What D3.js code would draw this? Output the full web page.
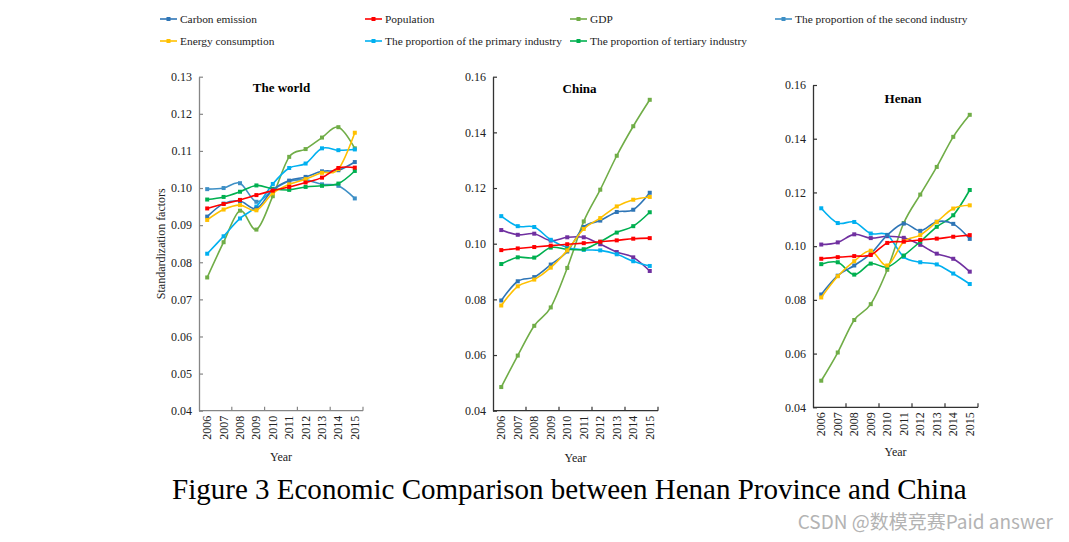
<!DOCTYPE html>
<html><head><meta charset="utf-8">
<script src="https://cdn.jsdelivr.net/npm/d3@7/dist/d3.min.js"></script>
<style>body{margin:0;background:#fff}svg{display:block}</style>
</head><body>
<svg id="c" width="1069" height="542"></svg>
<script>
// ---------- data ----------
const years = ["2006","2007","2008","2009","2010","2011","2012","2013","2014","2015"];
const seriesNames = ["Carbon emission","Population","GDP","The proportion of the second industry",
  "Energy consumption","The proportion of the primary industry","The proportion of tertiary industry"];
const panelTitles = ["The world","China","Henan"];
const worldTicks = [0.04,0.05,0.06,0.07,0.08,0.09,0.10,0.11,0.12,0.13];
const chinaTicks = [0.04,0.06,0.08,0.10,0.12,0.14,0.16];
const henanTicks = [0.04,0.06,0.08,0.10,0.12,0.14,0.16];

const worldCarbon     = [0.0923,0.0958,0.0965,0.0945,0.0995,0.1020,0.1030,0.1045,0.1048,0.1070];
const worldPopulation = [0.0945,0.0957,0.0968,0.0981,0.0993,0.1003,0.1015,0.1028,0.1054,0.1055];
const worldGDP        = [0.0759,0.0854,0.0939,0.0888,0.0978,0.1084,0.1105,0.1136,0.1164,0.1107];
const worldSecond     = [0.0997,0.1000,0.1013,0.0963,0.0995,0.1018,0.1022,0.1010,0.1006,0.0972];
const worldEnergy     = [0.0914,0.0942,0.0954,0.0940,0.0986,0.1010,0.1024,0.1041,0.1051,0.1149];
const worldPrimary    = [0.0823,0.0870,0.0918,0.0950,0.1011,0.1054,0.1066,0.1107,0.1102,0.1104];
const worldTertiary   = [0.0969,0.0976,0.0990,0.1007,0.0998,0.0995,0.1003,0.1006,0.1012,0.1046];

const chinaCarbon     = [0.0796,0.0865,0.0880,0.0925,0.0972,0.1060,0.1083,0.1114,0.1122,0.1183];
const chinaPopulation = [0.0977,0.0983,0.0988,0.0993,0.0998,0.1002,0.1007,0.1012,0.1018,0.1020];
const chinaGDP        = [0.0485,0.0598,0.0705,0.0771,0.0913,0.1080,0.1194,0.1316,0.1422,0.1517];
const chinaSecond     = [0.1049,0.1032,0.1036,0.1011,0.1023,0.1023,0.0998,0.0970,0.0951,0.0902];
const chinaEnergy     = [0.0778,0.0847,0.0871,0.0914,0.0976,0.1053,0.1092,0.1134,0.1158,0.1168];
const chinaPrimary    = [0.1099,0.1063,0.1060,0.1014,0.0986,0.0978,0.0976,0.0962,0.0937,0.0920];
const chinaTertiary   = [0.0927,0.0951,0.0950,0.0986,0.0980,0.0980,0.1007,0.1040,0.1063,0.1113];

const henanCarbon     = [0.0820,0.0890,0.0928,0.0972,0.1041,0.1084,0.1057,0.1091,0.1083,0.1027];
const henanPopulation = [0.0953,0.0959,0.0963,0.0967,0.1012,0.1017,0.1023,0.1028,0.1035,0.1041];
const henanGDP        = [0.0499,0.0604,0.0725,0.0784,0.0912,0.1086,0.1192,0.1295,0.1407,0.1489];
const henanSecond     = [0.1006,0.1014,0.1044,0.1030,0.1037,0.1031,0.1005,0.0972,0.0953,0.0905];
const henanEnergy     = [0.0809,0.0888,0.0944,0.0983,0.0928,0.1017,0.1041,0.1090,0.1140,0.1152];
const henanPrimary    = [0.1141,0.1086,0.1090,0.1047,0.1042,0.0960,0.0940,0.0932,0.0898,0.0859];
const henanTertiary   = [0.0933,0.0940,0.0894,0.0935,0.0922,0.0965,0.1017,0.1072,0.1115,0.1209];

// ---------- styles ----------
const colors = {
  "Carbon emission":"#2e75b6",
  "Population":"#ff0000",
  "GDP":"#70ad47",
  "The proportion of the second industry":"#3d8fc6",
  "Energy consumption":"#ffc000",
  "The proportion of the primary industry":"#00b0f0",
  "The proportion of tertiary industry":"#00b050"
};
const SERIF = "'Liberation Serif','Times New Roman',serif";

const panels = [
  {title:panelTitles[0], ticks:worldTicks, left:199, right:363, top:76.7, bottom:410.7,
   titleX:281.5, titleY:91.5, axisColor:"#868686", yTitle:"Standardization factors", yearY:461,
   secondColor:"#3d8fc6",
   series:[worldCarbon,worldPopulation,worldGDP,worldSecond,worldEnergy,worldPrimary,worldTertiary]},
  {title:panelTitles[1], ticks:chinaTicks, left:493, right:658, top:76.7, bottom:410.7,
   titleX:579.5, titleY:92.5, axisColor:"#333", yearY:462,
   secondColor:"#7030a0",
   series:[chinaCarbon,chinaPopulation,chinaGDP,chinaSecond,chinaEnergy,chinaPrimary,chinaTertiary]},
  {title:panelTitles[2], ticks:henanTicks, left:813, right:978, top:85, bottom:407.3,
   titleX:903, titleY:103, axisColor:"#333", yearY:456,
   secondColor:"#7030a0",
   series:[henanCarbon,henanPopulation,henanGDP,henanSecond,henanEnergy,henanPrimary,henanTertiary]}
];

const svg = d3.select("#c");
svg.append("rect").attr("width",1069).attr("height",542).attr("fill","#fff");

const drawOrder = [2,3,5,6,0,4,1];

panels.forEach(p => {
  const x = d3.scaleBand().domain(years).range([p.left,p.right]);
  const y = d3.scaleLinear().domain([p.ticks[0], p.ticks[p.ticks.length-1]]).range([p.bottom,p.top]);
  const g = svg.append("g");

  const ya = g.append("g").attr("transform",`translate(${p.left},0)`)
    .call(d3.axisRight(y).tickValues(p.ticks).tickFormat(d3.format(".2f")).tickSize(4).tickSizeOuter(0));
  ya.select(".domain").attr("stroke",p.axisColor).attr("stroke-width",1.3);
  ya.selectAll(".tick line").attr("stroke",p.axisColor).attr("stroke-width",1.2);
  ya.selectAll(".tick text").attr("x",-7).attr("text-anchor","end")
    .style("font-family",SERIF).style("font-size","12px").attr("fill","#222");

  const bw = x.bandwidth();
  g.append("line").attr("x1",p.left).attr("x2",p.right).attr("y1",p.bottom).attr("y2",p.bottom)
    .attr("stroke",p.axisColor).attr("stroke-width",1.3);
  years.forEach((yr,i) => {
    if ((i+1)%2===0) {
      const tx = x(yr)+bw;
      g.append("line").attr("x1",tx).attr("x2",tx).attr("y1",p.bottom).attr("y2",p.bottom-4)
        .attr("stroke",p.axisColor).attr("stroke-width",1.2);
    }
    g.append("text").attr("transform",`translate(${x(yr)+bw/2+4},${p.bottom+5}) rotate(-90)`)
      .attr("text-anchor","end").style("font-family",SERIF).style("font-size","12px")
      .attr("fill","#222").text(yr);
  });

  g.append("text").attr("x",p.titleX).attr("y",p.titleY).attr("text-anchor","middle")
    .style("font-family",SERIF).style("font-size","13px").style("font-weight","bold").text(p.title);

  g.append("text").attr("x",(p.left+p.right)/2).attr("y",p.yearY).attr("text-anchor","middle")
    .style("font-family",SERIF).style("font-size","12px").attr("fill","#222").text("Year");

  if (p.yTitle) {
    g.append("text").attr("transform",`translate(165,${(p.top+p.bottom)/2}) rotate(-90)`)
      .attr("text-anchor","middle").style("font-family",SERIF).style("font-size","12px")
      .attr("fill","#222").text(p.yTitle);
  }

  const line = d3.line().x((d,i)=>x(years[i])+bw/2).y(d=>y(d)).curve(d3.curveCardinal.tension(0));
  drawOrder.forEach(si => {
    const name = seriesNames[si];
    const col = si===3 ? p.secondColor : colors[name];
    const vals = p.series[si];
    g.append("path").datum(vals).attr("d",line).attr("fill","none")
      .attr("stroke",col).attr("stroke-width",1.6);
    g.selectAll(null).data(vals).enter().append("rect")
      .attr("x",(d,i)=>x(years[i])+bw/2-2).attr("y",d=>y(d)-2)
      .attr("width",4).attr("height",4).attr("fill",col);
  });
});

// legend
const legCols = [160,365,570,775], legRows = [19,41];
const legOrder = [[0,0,0],[1,1,0],[2,2,0],[3,3,0],[4,0,1],[5,1,1],[6,2,1]];
legOrder.forEach(([si,c,r]) => {
  const lx = legCols[c], ly = legRows[r], col = colors[seriesNames[si]];
  const lg = svg.append("g");
  lg.append("line").attr("x1",lx).attr("x2",lx+17).attr("y1",ly).attr("y2",ly)
    .attr("stroke",col).attr("stroke-width",1.6);
  lg.append("rect").attr("x",lx+6.5).attr("y",ly-2).attr("width",4).attr("height",4).attr("fill",col);
  lg.append("text").attr("x",lx+20).attr("y",ly+4).style("font-family",SERIF).style("font-size","11.4px")
    .attr("fill","#222").text(seriesNames[si]);
});

// caption
const cap = svg.append("text").attr("x",172).attr("y",499)
  .style("font-family",SERIF).style("font-size","27px").attr("fill","#000")
  .text("Figure 3 Economic Comparison between Henan Province and China");
const cw = cap.node().getComputedTextLength();
cap.style("font-size",(27*795/cw).toFixed(2)+"px");

// watermark
svg.append("text").attr("x",1053).attr("y",529).attr("text-anchor","end")
  .style("font-family","'Noto Sans CJK SC','Noto Sans',sans-serif").style("font-size","19px")
  .attr("fill","#b3b3b3").text("CSDN @数模竞赛Paid answer");
</script>
</body></html>
